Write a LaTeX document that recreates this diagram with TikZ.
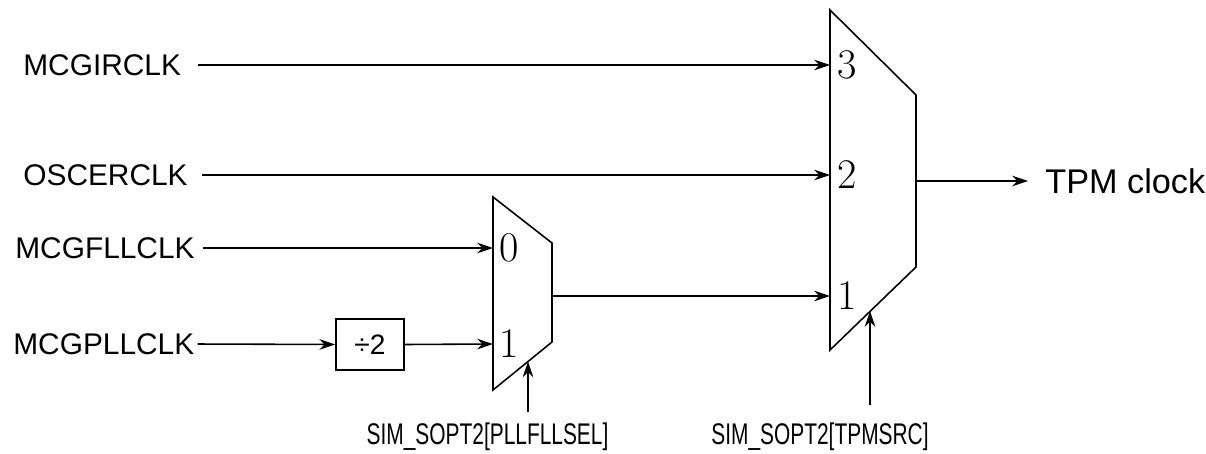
\documentclass[tikz,border=0pt]{standalone}
\usepackage{fontspec}
\usepackage{tikz}
\usetikzlibrary{arrows,arrows.meta}
\newfontfamily\armfont{Liberation Sans}
\newfontfamily\narrowsans[FakeStretch=0.7]{Liberation Sans}
\tikzstyle{sig} = [style={->,>={Stealth[length=9pt,width=6pt]},line width=0.9pt}]
\tikzstyle{muxline} = [draw, line width=0.9pt, line join=miter]
\tikzstyle{src} = [inner sep=0pt, anchor=west, font=\armfont\fontsize{17}{20}\selectfont]
\tikzstyle{sel} = [inner sep=0pt, font=\narrowsans\fontsize{17}{20}\selectfont]
\tikzstyle{pin} = [inner sep=0pt, anchor=west, font=\fontsize{24}{28}\selectfont]
\tikzstyle{divbox} = [draw, line width=0.9pt, minimum width=1.36cm, minimum height=1.02cm, inner sep=0pt, font=\armfont\fontsize{16}{18}\selectfont]

\begin{document}
\begin{tikzpicture}[x=0.02cm,y=-0.02cm]
    \useasboundingbox (0,0) rectangle (1206,453);
    % clock sources
    \node[src] (irc) at (23,65) {MCGIRCLK};
    \node[src] (osc) at (23,175) {OSCERCLK};
    \node[src] (fll) at (15,248) {MCGFLLCLK};
    \node[src] (pll) at (13,344) {MCGPLLCLK};
    \node[divbox] (div) at (370,344.5) {÷2};

    % PLL/FLL mux
    \path[muxline] (493,197) -- (552,243) -- (552,342) -- (493,390) -- cycle;
    \coordinate (m0) at (493,248);
    \coordinate (m1) at (493,344);
    \coordinate (mout) at (552,296);
    \coordinate (msel) at (528,361.5);
    \coordinate (mbot) at (528,412);
    \node[pin] (p0) at (499,248) {0};
    \node[pin] (p1) at (499,344) {1};
    \node[sel] (pllsel) at (487.5,437) {SIM\_SOPT2[PLLFLLSEL]};

    % TPM mux
    \path[muxline] (830,10) -- (916,95) -- (916,267) -- (830,350) -- cycle;
    \coordinate (t3) at (830,65);
    \coordinate (t2) at (830,175);
    \coordinate (t1) at (830,296);
    \coordinate (tout) at (916,181);
    \coordinate (tsel) at (870,311);
    \coordinate (tbot) at (870,405);
    \node[pin] (q3) at (837,65) {3};
    \node[pin] (q2) at (837,175) {2};
    \node[pin] (q1) at (837,296) {1};
    \node[sel] (tpmsel) at (820,437) {SIM\_SOPT2[TPMSRC]};
    \node[src, font=\armfont\fontsize{19.5}{23}\selectfont] (tpm) at (1045,181) {TPM clock};

    % wires
    \draw[sig, shorten <=0.34cm] (irc.east) -- (t3);
    \draw[sig, shorten <=0.28cm] (osc.east) -- (t2);
    \draw[sig, shorten <=0.16cm] (fll.east) -- (m0);
    \draw[sig, shorten <=0.06cm] (pll.east) -- (div.west);
    \draw[sig] (div.east) -- (m1);
    \draw[sig] (mout) -- (t1);
    \draw[sig] (mbot) -- (msel);
    \draw[sig] (tbot) -- (tsel);
    \draw[sig, shorten >=0.34cm] (tout) -- (tpm.west);
\end{tikzpicture}
\end{document}
